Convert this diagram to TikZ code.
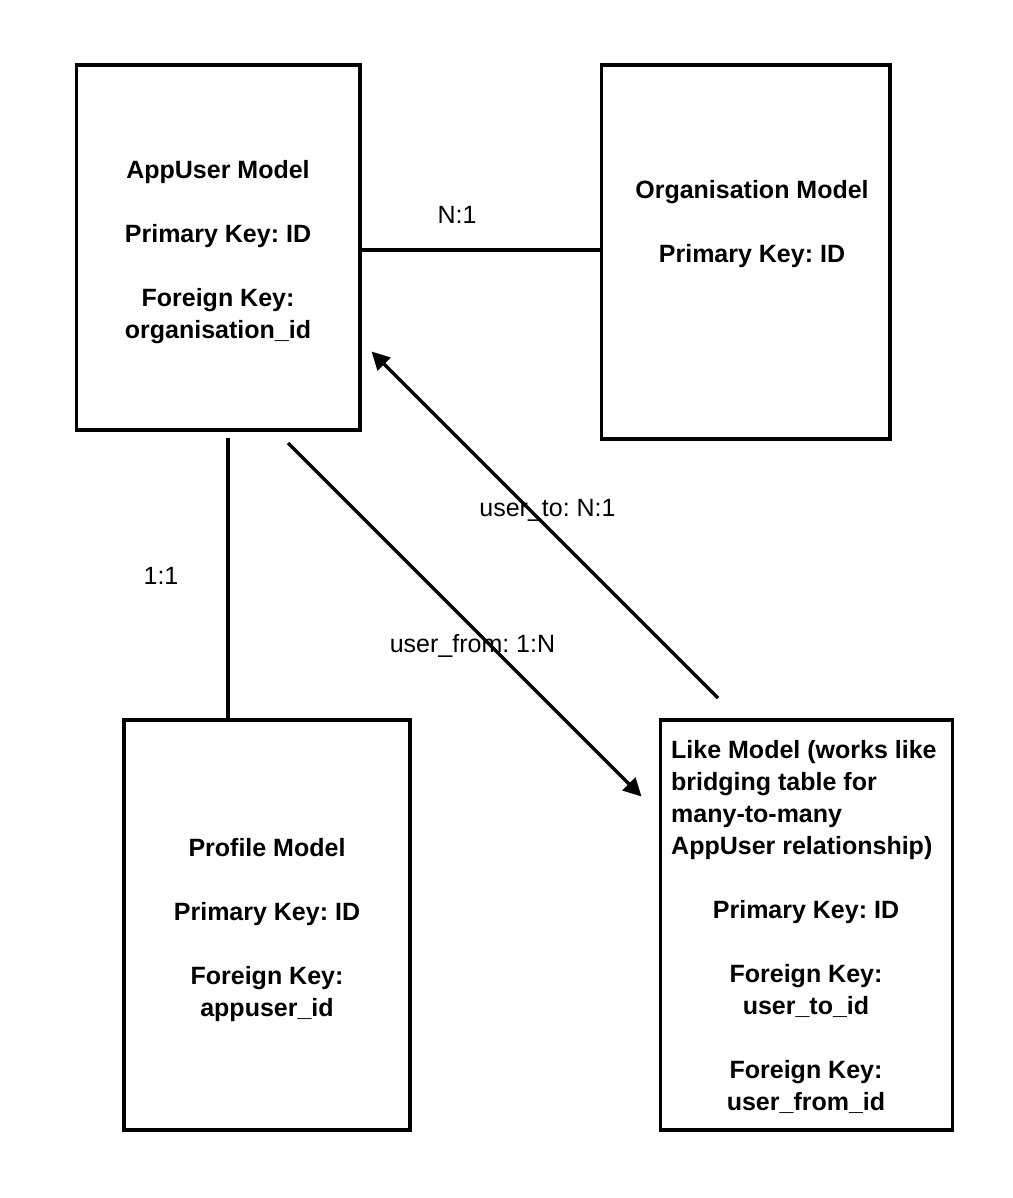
\documentclass[tikz,border=0pt]{standalone}
\usepackage{fontspec}
\setmainfont{Liberation Sans}
\usetikzlibrary{arrows.meta}
\frenchspacing
\newcommand{\mystrut}{\rule[-8pt]{0pt}{32pt}}
\tikzset{
  box/.style={draw=black, line width=3.2pt, inner sep=0pt, fill=white},
  boxtext/.style={inner sep=0pt, align=center, font=\fontsize{25}{32}\selectfont\bfseries},
  lbl/.style={inner sep=0pt, font=\fontsize{25}{32}\selectfont, fill=none},
  conn/.style={draw=black, line width=3.2pt},
  arr/.style={conn, -{Triangle[length=18pt,width=18pt]}}
}
\begin{document}
\begin{tikzpicture}[x=1pt, y=-1pt]
\useasboundingbox[fill=white] (0,0) rectangle (1012,1198);

% boxes
\node[box, minimum width=283.5pt, minimum height=365pt] (appuser) at (218.25,247.5) {};
\node[box, minimum width=288.5pt, minimum height=374pt] (org) at (745.75,252) {};
\node[box, minimum width=286pt, minimum height=410pt] (profile) at (267,925) {};
\node[box, minimum width=292pt, minimum height=410pt] (like) at (806.5,925) {};

% box texts
\node[boxtext, anchor=north] (appuser-t) at (218,154) {%
\mystrut AppUser Model\\ \mystrut\\ \mystrut Primary Key: ID\hspace*{11pt}\\ \mystrut\\ \mystrut Foreign Key:\\ \mystrut organisation\_id};
\node[boxtext, anchor=north] (org-t) at (752,174) {%
\mystrut Organisation Model\\ \mystrut\\ \mystrut Primary Key: ID};
\node[boxtext, anchor=north] (profile-t) at (267,832) {%
\mystrut Profile Model\\ \mystrut\\ \mystrut Primary Key: ID\\ \mystrut\\ \mystrut Foreign Key:\\ \mystrut appuser\_id};
\node[boxtext, align=left, anchor=north west] (like-ta) at (671,734) {%
\mystrut Like Model (works like\\ \mystrut bridging table for\\ \mystrut many-to-many\\ \mystrut AppUser relationship)};
\node[boxtext, anchor=north] (like-tb) at (806,894) {%
\mystrut Primary Key: ID\\ \mystrut\\ \mystrut Foreign Key:\\ \mystrut user\_to\_id\\ \mystrut\\ \mystrut Foreign Key:\\ \mystrut user\_from\_id};

% helper coordinates
\coordinate (h) at (0,250);
\coordinate (v) at (228,0);
\coordinate (uf1) at (288,443);
\coordinate (uf2) at (641.5,796.5);
\coordinate (ut1) at (718,698);
\coordinate (ut2) at (371.5,351.5);

% connectors
\draw[conn] (appuser.east |- h) -- (org.west |- h);
\draw[conn] ([yshift=-6pt]appuser.south -| v) -- (profile.north -| v);
\draw[arr] (uf1) -- (uf2);
\draw[arr] (ut1) -- (ut2);

% labels
\node[lbl, anchor=base] (l-n1) at (457,224) {N:1};
\node[lbl, anchor=base] (l-11) at (161,584) {1:1};
\node[lbl, anchor=base] (l-to) at (547.5,516) {user\_to: N:1};
\node[lbl, anchor=base] (l-from) at (472.5,652) {user\_from: 1:N};
\end{tikzpicture}
\end{document}
